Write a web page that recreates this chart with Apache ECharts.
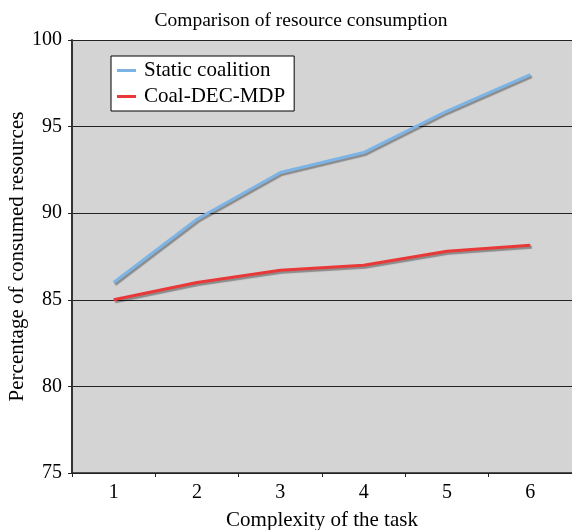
<!DOCTYPE html>
<html>
<head>
<meta charset="utf-8">
<script src="https://cdn.jsdelivr.net/npm/echarts@6/dist/echarts.min.js"></script>
<style>html,body{margin:0;padding:0;background:#fff;}#c{width:572px;height:530px;}</style>
</head>
<body>
<div id="c"></div>
<script>
const categories = ['1', '2', '3', '4', '5', '6'];
const staticCoalition = [86.0, 89.65, 92.35, 93.5, 95.9, 98.0];
const coalDecMdp = [85.0, 86.0, 86.7, 87.0, 87.8, 88.15];
const seriesNames = ['Static coalition', 'Coal-DEC-MDP'];

const font = 'Liberation Serif, Times New Roman, serif';
const chart = echarts.init(document.getElementById('c'));
const shadow = {shadowColor: 'rgba(0,0,0,0.35)', shadowBlur: 1, shadowOffsetX: 1.5, shadowOffsetY: 2};
chart.setOption({
  animation: false,
  title: {
    text: 'Comparison of resource consumption',
    left: 296, top: 6, textAlign: 'center',
    textStyle: {fontFamily: font, fontWeight: 'normal', fontSize: 19.5, color: '#000'}
  },
  legend: {
    left: 111, top: 56, orient: 'vertical',
    backgroundColor: '#fff', borderColor: '#000', borderWidth: 1,
    padding: [4, 9, 4, 6], itemGap: 5,
    itemWidth: 19, itemHeight: 3, icon: 'rect',
    textStyle: {fontFamily: font, fontSize: 21, color: '#000', padding: [0, 0, 0, 3]},
    data: seriesNames
  },
  grid: {left: 72, right: 0, top: 40, bottom: 57, show: true, backgroundColor: '#d4d4d4', borderWidth: 0,
         containLabel: false, outerBoundsMode: 'none'},
  xAxis: {
    type: 'category', data: categories, boundaryGap: true,
    name: 'Complexity of the task', nameLocation: 'middle', nameGap: 37, nameMoveOverlap: false,
    nameTextStyle: {fontFamily: font, fontSize: 21, color: '#000'},
    axisLine: {lineStyle: {color: '#222', width: 1.5}},
    axisTick: {show: true, length: 4, lineStyle: {color: '#222'}},
    axisLabel: {fontFamily: font, fontSize: 20, color: '#000', margin: 10}
  },
  yAxis: {
    type: 'value', min: 75, max: 100, interval: 5,
    name: 'Percentage of consumed resources', nameLocation: 'middle', nameGap: 44, nameMoveOverlap: false,
    nameTextStyle: {fontFamily: font, fontSize: 21, color: '#000'},
    axisLine: {show: true, lineStyle: {color: '#333', width: 2}},
    axisTick: {show: true, length: 4, lineStyle: {color: '#222'}},
    axisLabel: {fontFamily: font, fontSize: 20, color: '#000', margin: 10},
    splitLine: {show: true, lineStyle: {color: '#222', width: 1.2}}
  },
  series: [
    {name: seriesNames[0], type: 'line', data: staticCoalition, symbol: 'none',
     itemStyle: {color: '#7db4e6'},
     lineStyle: Object.assign({color: '#7db4e6', width: 3}, shadow)},
    {name: seriesNames[1], type: 'line', data: coalDecMdp, symbol: 'none',
     itemStyle: {color: '#e83838'},
     lineStyle: Object.assign({color: '#e83838', width: 3}, shadow)}
  ]
});
</script>
</body>
</html>
